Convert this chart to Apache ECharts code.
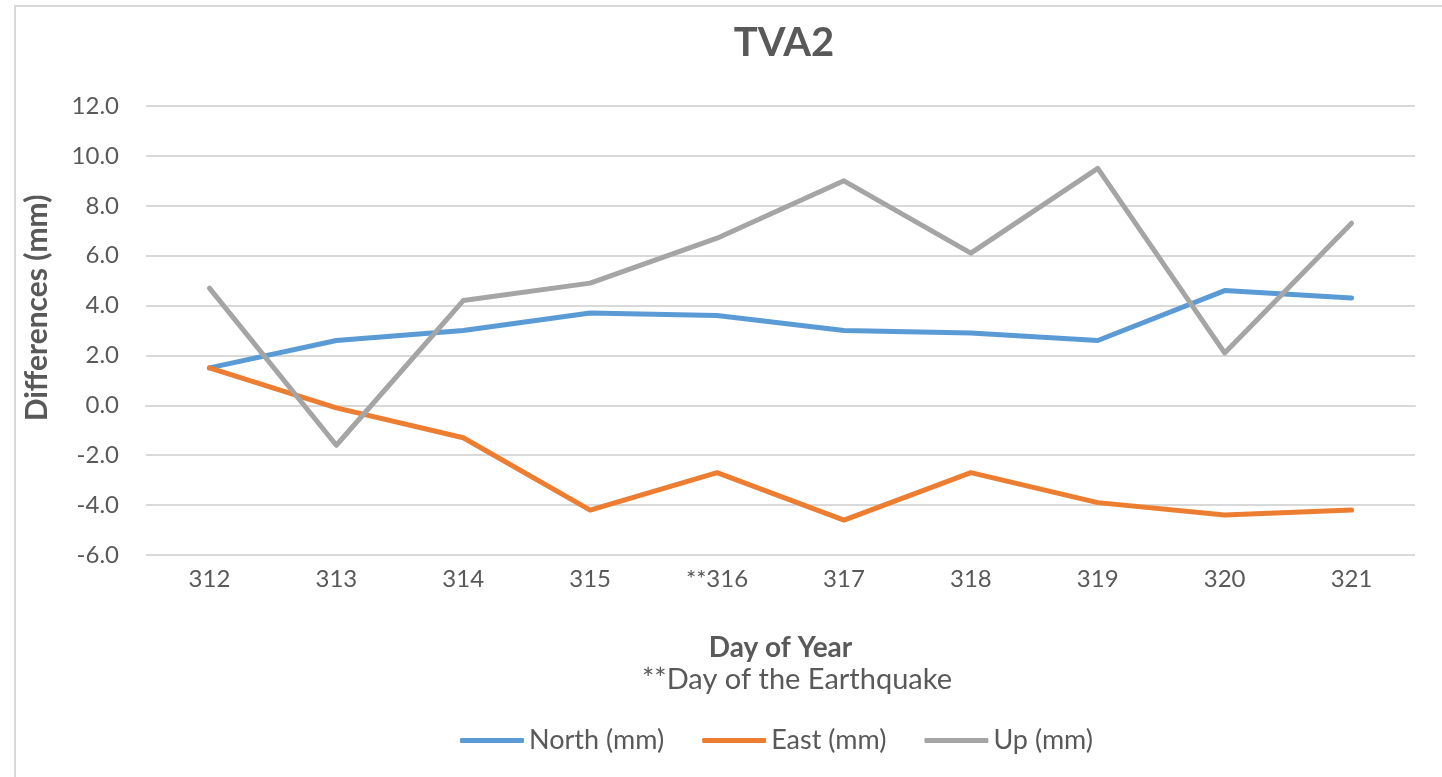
<!DOCTYPE html>
<html><head><meta charset="utf-8">
<script src="https://cdn.jsdelivr.net/npm/echarts@6/dist/echarts.min.js"></script>
<style>
html,body{margin:0;padding:0;background:#fff;}
#frame{position:absolute;left:14px;top:5px;width:1428px;height:772px;border:2px solid #d9d9d9;box-sizing:border-box;border-right:none;border-bottom:none;}
#c{position:absolute;left:0;top:0;width:1442px;height:777px;}
</style></head>
<body>
<div id="frame"></div>
<div id="c"></div>
<script>
const categories = ['312','313','314','315','**316','317','318','319','320','321'];
const north = [1.5, 2.6, 3.0, 3.7, 3.6, 3.0, 2.9, 2.6, 4.6, 4.3];
const east = [1.5, -0.1, -1.3, -4.2, -2.7, -4.6, -2.7, -3.9, -4.4, -4.2];
const up = [4.7, -1.6, 4.2, 4.9, 6.7, 9.0, 6.1, 9.5, 2.1, 7.3];
const yTicks = {min: -6, max: 12, interval: 2};

const font = 'Lato, Open Sans, sans-serif';
const txt = '#595959';
const chart = echarts.init(document.getElementById('c'));
function mk(name, data, color){
  return {name, type:'line', data, symbol:'none', smooth:false,
    lineStyle:{color, width:5, cap:'round', join:'round'}, itemStyle:{color}};
}
chart.setOption({
  animation:false,
  backgroundColor:'transparent',
  textStyle:{fontFamily:font},
  title:[
    {text:'TVA2', left:779, textAlign:'center', top:18, textStyle:{fontFamily:font, fontSize:40, fontWeight:'bold', color:txt}},
    {text:'**Day of the Earthquake', left:792, textAlign:'center', top:660, textStyle:{fontFamily:font, fontSize:29, fontWeight:'normal', color:txt}}
  ],
  legend:{top:722, left:455, itemWidth:64, itemHeight:5, itemGap:38,
    textStyle:{fontFamily:font, fontSize:27, color:txt},
    data:[{name:'North (mm)', icon:'roundRect'},{name:'East (mm)', icon:'roundRect'},{name:'Up (mm)', icon:'roundRect'}]},
  grid:{left:146, right:27, top:106, bottom:222},
  xAxis:{type:'category', data:categories, boundaryGap:true,
    name:'Day of Year', nameLocation:'middle', nameGap:79,
    nameTextStyle:{fontFamily:font, fontSize:28, fontWeight:'bold', color:txt},
    axisLine:{show:true, lineStyle:{color:'#d9d9d9', width:2}},
    axisTick:{show:false},
    axisLabel:{fontFamily:font, fontSize:24, color:txt, margin:12}},
  yAxis:{type:'value', min:yTicks.min, max:yTicks.max, interval:yTicks.interval,
    name:'Differences (mm)', nameLocation:'middle', nameGap:94,
    nameTextStyle:{fontFamily:font, fontSize:30, fontWeight:'bold', color:txt, padding:[0,0,0,45]},
    axisLine:{show:false}, axisTick:{show:false},
    axisLabel:{fontFamily:font, fontSize:24, color:txt, margin:27, formatter:v=>v.toFixed(1)},
    splitLine:{lineStyle:{color:'#d9d9d9', width:2}}},
  series:[mk('North (mm)', north, '#5b9bd5'), mk('East (mm)', east, '#ed7d31'), mk('Up (mm)', up, '#a5a5a5')]
});
</script>
</body></html>
